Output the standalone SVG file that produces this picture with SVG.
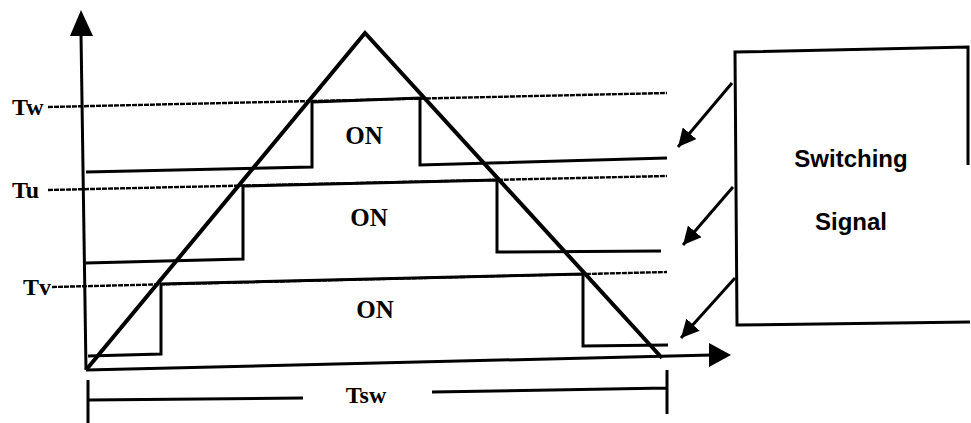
<svg xmlns="http://www.w3.org/2000/svg" width="971" height="423" viewBox="0 0 971 423">
<defs>
<style>
.lbl{font-family:"Liberation Serif","Times New Roman",serif;font-weight:bold;font-size:24px;fill:#000}
.on{font-family:"Liberation Serif","Times New Roman",serif;font-weight:bold;font-size:25px;fill:#000}
.box{font-family:"Liberation Sans",Arial,sans-serif;font-weight:bold;font-size:24px;fill:#000}
.lvl{fill:none;stroke:#000;stroke-width:2.4;stroke-dasharray:5 1}
.pulse{fill:none;stroke:#000;stroke-width:3;stroke-linejoin:miter}
.axis{fill:none;stroke:#000;stroke-width:3}
.tri{fill:none;stroke:#000;stroke-width:4;stroke-linejoin:miter}
.dim{fill:none;stroke:#000;stroke-width:3}
.arr{fill:none;stroke:#000;stroke-width:3;marker-end:url(#ah)}
</style>
<marker id="ah" markerUnits="userSpaceOnUse" markerWidth="20" markerHeight="18" refX="18" refY="9" orient="auto">
<path d="M0,0 L18,9 L0,18 Z" fill="#000"/>
</marker>
</defs>
<rect width="971" height="423" fill="#fff"/>

<g id="axes">
<path class="axis" d="M86,370 L81,34"/>
<polygon points="81,10 70,36 93,36" fill="#000"/>
<path class="axis" d="M86,370 L712,355"/>
<polygon points="731,355 709,343 709,367" fill="#000"/>
</g>

<g id="levels">
<path class="lvl" d="M48,107 L667,93"/>
<path class="lvl" d="M48,190 L667,176"/>
<path class="lvl" d="M52,287 L667,272"/>
<text class="lbl" x="12" y="115">Tw</text>
<text class="lbl" x="12" y="198">Tu</text>
<text class="lbl" x="23" y="295">Tv</text>
</g>

<g id="triangle">
<path class="tri" d="M86,370 L365,33 L662,358"/>
</g>

<g id="pulses">
<path class="pulse" d="M86,172 L312,167 L312,102 L420,98 L420,165 L667,158"/>
<path class="pulse" d="M86,263 L243,259 L243,186 L497,180 L497,252 L661,251"/>
<path class="pulse" d="M88,356 L161,354 L161,284 L583,274 L583,346 L668,345"/>
<text class="on" x="364" y="144" text-anchor="middle">ON</text>
<text class="on" x="369" y="226" text-anchor="middle">ON</text>
<text class="on" x="375" y="318" text-anchor="middle">ON</text>
</g>

<g id="tsw">
<path class="dim" d="M88,380 L88,423 M88,400 L303,398 M432,392 L667,388 M667,370 L667,414"/>
<text class="lbl" x="366" y="403" text-anchor="middle">Tsw</text>
</g>

<g id="switching-box">
<path fill="none" stroke="#000" stroke-width="3" d="M968,165 L968,47 L735,52 L737,325 L970,322"/>
<text class="box" x="851" y="167" text-anchor="middle">Switching</text>
<text class="box" x="851" y="230" text-anchor="middle">Signal</text>
</g>

<g id="connectors">
<path class="arr" d="M732,83 L678,147"/>
<path class="arr" d="M733,187 L683,245"/>
<path class="arr" d="M735,278 L681,338"/>
</g>
</svg>
